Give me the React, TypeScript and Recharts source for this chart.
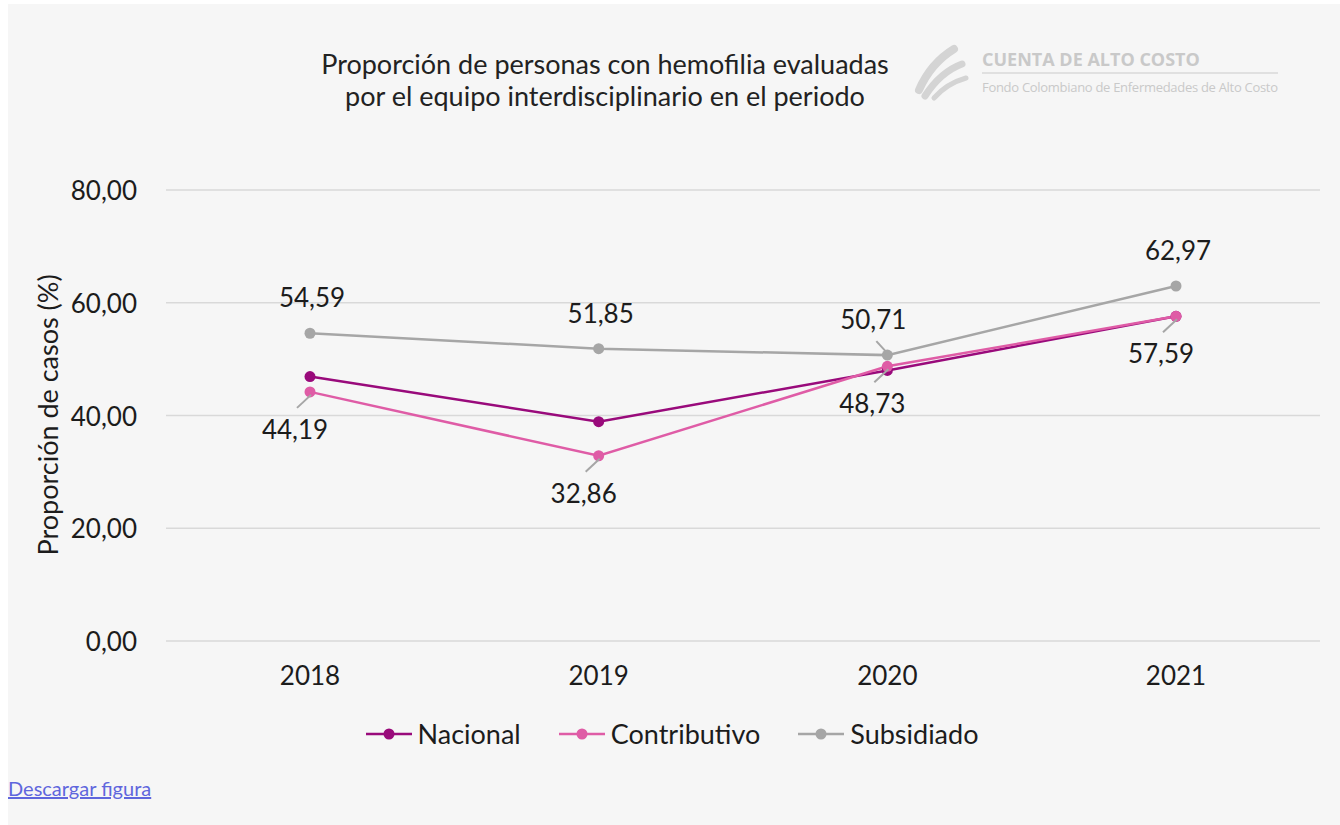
import React from "react";
import {
  LineChart,
  Line,
  XAxis,
  YAxis,
  CartesianGrid,
  LabelList,
} from "recharts";

const years = ["2018", "2019", "2020", "2021"];
const nacional = [46.9, 38.9, 48.0, 57.6];
const contributivo = [44.19, 32.86, 48.73, 57.59];
const subsidiado = [54.59, 51.85, 50.71, 62.97];
const yTicks = [0, 20, 40, 60, 80];

const FONT = "Lato, 'Noto Sans', sans-serif";
const TEXT = "#1c1c1c";
const NUM_SIZE = 26;

const COLORS = {
  Nacional: "#990a7b",
  Contributivo: "#df5ca6",
  Subsidiado: "#a6a6a6",
};

const data = years.map((y, i) => ({
  year: y,
  Nacional: nacional[i],
  Contributivo: contributivo[i],
  Subsidiado: subsidiado[i],
}));

const fmt = (v: number) => v.toFixed(2).replace(".", ",");

// labels above the gray line, the 2020 one is pushed left with a leader line
const renderAbove = (props: any) => {
  const { x, y, value, index } = props;
  const shifted = index === 2;
  const lx = shifted ? x - 14 : x + 2;
  return (
    <g>
      {shifted && (
        <line x1={x - 11} y1={y - 14} x2={x} y2={y - 2} stroke="#a6a6a6" strokeWidth={2} />
      )}
      <text x={lx} y={y - 36} textAnchor="middle" dominantBaseline="central" fontSize={NUM_SIZE} fill={TEXT} fontFamily={FONT}>
        {fmt(value)}
      </text>
    </g>
  );
};

// labels below-left of the pink line with a short leader line
const renderBelow = (props: any) => {
  const { x, y, value } = props;
  return (
    <g>
      <line x1={x - 13} y1={y + 16} x2={x + 1} y2={y + 3} stroke="#a6a6a6" strokeWidth={2} />
      <text x={x - 15} y={y + 37} textAnchor="middle" dominantBaseline="central" fontSize={NUM_SIZE} fill={TEXT} fontFamily={FONT}>
        {fmt(value)}
      </text>
    </g>
  );
};

const XTick = (props: any) => {
  const { x, y, payload } = props;
  return (
    <text x={x} y={y + 26} textAnchor="middle" dominantBaseline="central" fontSize={NUM_SIZE} fill={TEXT} fontFamily={FONT}>
      {payload.value}
    </text>
  );
};

const YTick = (props: any) => {
  const { x, y, payload } = props;
  return (
    <text x={x - 21} y={y} textAnchor="end" dominantBaseline="central" fontSize={NUM_SIZE} fill={TEXT} fontFamily={FONT}>
      {fmt(payload.value)}
    </text>
  );
};

const Logo = () => (
  <svg width={380} height={70} style={{ position: "absolute", left: 910, top: 40 }}>
    <g fill="none" stroke="#d4d4d4" strokeLinecap="round">
      <path d="M9 50 C 16 34, 26 20, 44 9" strokeWidth={8} />
      <path d="M15 56 C 24 42, 36 30, 52 24" strokeWidth={7} />
      <path d="M24 58 C 31 50, 42 42, 56 38" strokeWidth={5} />
    </g>
    <text x={72} y={26} fontSize={18} fontWeight={700} fill="#c9c9c9" fontFamily="'Open Sans', sans-serif">
      CUENTA DE ALTO COSTO
    </text>
    <line x1={72} y1={33} x2={368} y2={33} stroke="#d9d9d9" strokeWidth={1.5} />
    <text x={72} y={52} fontSize={13} fill="#c9c9c9" fontFamily="'Open Sans', sans-serif" textLength={296}>
      Fondo Colombiano de Enfermedades de Alto Costo
    </text>
  </svg>
);

const legendItems = ["Nacional", "Contributivo", "Subsidiado"] as const;

const ChartLegend = () => (
  <div
    style={{
      position: "absolute",
      top: 717,
      left: 0,
      width: 1340,
      display: "flex",
      justifyContent: "center",
      gap: 38,
      paddingLeft: 2,
      fontFamily: FONT,
      fontSize: 27,
      color: TEXT,
    }}
  >
    {legendItems.map((k) => (
      <div key={k} style={{ display: "flex", alignItems: "center", gap: 6 }}>
        <svg width={46} height={14}>
          <line x1={0} y1={7} x2={46} y2={7} stroke={COLORS[k]} strokeWidth={2.5} />
          <circle cx={23} cy={7} r={5.5} fill={COLORS[k]} />
        </svg>
        <span>{k}</span>
      </div>
    ))}
  </div>
);

export default function App() {
  return (
    <div style={{ position: "absolute", left: 0, top: 0, width: 1340, height: 825 }}>
      <div style={{ position: "absolute", left: 8, top: 4, right: 0, bottom: 0, background: "#f6f6f6" }} />
      <div
        style={{
          position: "absolute",
          left: 200,
          top: 48,
          width: 810,
          textAlign: "center",
          fontFamily: FONT,
          fontSize: 27,
          lineHeight: "32px",
          color: "#222",
        }}
      >
        Proporción de personas con hemofilia evaluadas
        <br />
        por el equipo interdisciplinario en el periodo
      </div>
      <Logo />
      <div style={{ position: "absolute", left: 0, top: 0 }}>
        <LineChart
          width={1340}
          height={700}
          data={data}
          margin={{ top: 190, right: 20, left: 66, bottom: 9 }}
        >
          <CartesianGrid vertical={false} stroke="#d9d9d9" strokeWidth={1.5} />
          <XAxis
            dataKey="year"
            axisLine={false}
            tickLine={false}
            height={50}
            padding={{ left: 144, right: 144 }}
            tick={<XTick />}
          />
          <YAxis
            domain={[0, 80]}
            ticks={yTicks}
            axisLine={false}
            tickLine={false}
            width={100}
            tick={<YTick />}
            label={{
              value: "Proporción de casos (%)",
              angle: -90,
              position: "insideLeft",
              dx: -23,
              dy: 140,
              style: { fontSize: 27, fill: TEXT, fontFamily: FONT },
            }}
          />
          <Line
            dataKey="Nacional"
            stroke={COLORS.Nacional}
            strokeWidth={2.5}
            dot={{ r: 5.5, fill: COLORS.Nacional, stroke: COLORS.Nacional, strokeWidth: 0 }}
            isAnimationActive={false}
          />
          <Line
            dataKey="Contributivo"
            stroke={COLORS.Contributivo}
            strokeWidth={2.5}
            dot={{ r: 5.5, fill: COLORS.Contributivo, stroke: COLORS.Contributivo, strokeWidth: 0 }}
            isAnimationActive={false}
          >
            <LabelList dataKey="Contributivo" content={renderBelow} />
          </Line>
          <Line
            dataKey="Subsidiado"
            stroke={COLORS.Subsidiado}
            strokeWidth={2.5}
            dot={{ r: 5.5, fill: COLORS.Subsidiado, stroke: COLORS.Subsidiado, strokeWidth: 0 }}
            isAnimationActive={false}
          >
            <LabelList dataKey="Subsidiado" content={renderAbove} />
          </Line>
        </LineChart>
      </div>
      <ChartLegend />
      <a
        href="#"
        style={{
          position: "absolute",
          left: 8,
          top: 776,
          fontFamily: FONT,
          fontSize: 20,
          color: "#5f66dd",
        }}
      >
        Descargar figura
      </a>
    </div>
  );
}
